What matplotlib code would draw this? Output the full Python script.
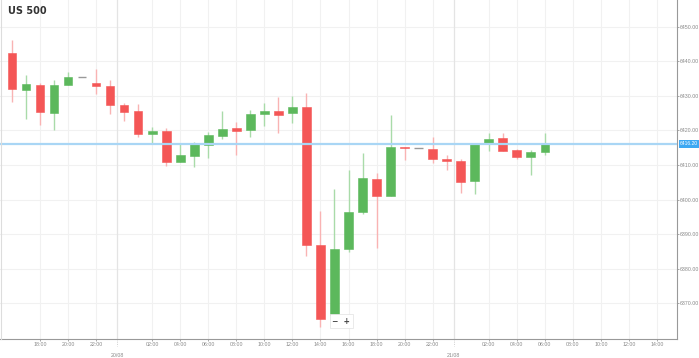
import numpy as np
import matplotlib
matplotlib.use('Agg')
from matplotlib import pyplot as plt

# hourly candles, hours relative to 20/08 00:00
hours = list(range(-8, 31))
opens = [6442.3, 6431.7, 6433.2, 6425.1, 6433.1, 6435.3, 6433.6, 6432.9, 6427.4, 6425.6,
         6418.9, 6419.9, 6410.8, 6412.7, 6415.7, 6418.5, 6420.6, 6420.1, 6424.6, 6425.6,
         6425.0, 6426.7, 6386.8, 6366.6, 6385.7, 6396.4, 6406.0, 6401.0, 6415.2, 6415.0,
         6414.7, 6411.8, 6411.1, 6405.3, 6416.2, 6417.7, 6414.2, 6412.3, 6413.8]
highs = [6446.0, 6436.0, 6433.8, 6434.5, 6436.8, 6435.3, 6437.8, 6434.5, 6428.0, 6427.7,
         6421.1, 6420.6, 6416.1, 6416.6, 6419.4, 6425.7, 6422.4, 6425.9, 6428.0, 6429.6,
         6430.0, 6430.9, 6396.7, 6403.0, 6408.7, 6413.6, 6407.6, 6424.5, 6415.3, 6415.0,
         6418.0, 6412.9, 6411.7, 6416.5, 6419.2, 6419.2, 6414.7, 6414.2, 6419.2]
lows = [6428.3, 6423.2, 6421.5, 6420.1, 6433.0, 6435.3, 6430.6, 6424.8, 6422.8, 6418.0,
        6416.1, 6409.8, 6410.8, 6409.5, 6411.9, 6417.6, 6412.9, 6418.0, 6421.3, 6419.2,
        6422.1, 6383.7, 6363.1, 6366.6, 6384.9, 6395.7, 6386.0, 6401.0, 6411.5, 6415.0,
        6410.7, 6408.6, 6401.9, 6401.6, 6414.1, 6414.1, 6411.8, 6407.1, 6412.9]
closes = [6431.9, 6433.4, 6425.3, 6433.0, 6435.3, 6435.3, 6432.7, 6427.3, 6425.4, 6419.0,
          6419.7, 6410.8, 6412.9, 6416.0, 6418.8, 6420.5, 6419.9, 6424.8, 6425.7, 6424.4,
          6426.9, 6387.0, 6365.6, 6385.8, 6396.4, 6406.1, 6400.9, 6415.1, 6415.0, 6415.0,
          6411.7, 6411.2, 6405.2, 6416.1, 6417.6, 6414.1, 6412.4, 6413.7, 6416.1]
last_price = 6416.2

xtick_hours = [-6, -4, -2, 2, 4, 6, 8, 10, 12, 14, 16, 18, 20, 22,
               26, 28, 30, 32, 34, 36, 38]
xtick_labels = ['18:00', '20:00', '22:00', '02:00', '04:00', '06:00', '08:00', '10:00',
                '12:00', '14:00', '16:00', '18:00', '20:00', '22:00',
                '02:00', '04:00', '06:00', '08:00', '10:00', '12:00', '14:00']
day_hours = [-0.5, 23.5]
day_labels = ['20/08', '21/08']
ytick_values = [6370, 6380, 6390, 6400, 6410, 6420, 6430, 6440, 6450]

RED = '#f45656'
GREEN = '#5cb85c'
RED_WICK = '#f9b3b3'
GREEN_WICK = '#a9dba9'
GREY = '#999999'
TICKFONT = 'Liberation Sans'

fig = plt.figure(figsize=(6.99, 3.58), dpi=100)
ax = fig.add_axes([0, 19 / 358, 676.7 / 699, 339 / 358])

ax.set_xlim(-8.85, 39.4)
ax.set_ylim(6359.7, 6457.7)

# grid
for v in ytick_values:
    ax.axhline(v, color='#f1f1f1', lw=0.8, zorder=0)
for h in xtick_hours:
    ax.axvline(h, color='#f1f1f1', lw=0.8, zorder=0)
for h in day_hours:
    ax.axvline(h, color='#e4e4e4', lw=0.9, zorder=0)

# candles
for h, o, hi, lo, c in zip(hours, opens, highs, lows, closes):
    if c > o:
        col, wcol = GREEN, GREEN_WICK
    elif c < o:
        col, wcol = RED, RED_WICK
    else:
        col, wcol = GREY, GREY
    ax.vlines(h, lo, hi, color=wcol, lw=1.0, zorder=2)
    if c == o:
        ax.hlines(o, h - 0.31, h + 0.31, color=col, lw=1.0, zorder=3)
    else:
        ax.bar(h, abs(c - o), bottom=min(o, c), width=0.62, color=col,
               edgecolor=col, linewidth=0.4, zorder=3)

# last price line
ax.axhline(last_price, color='#a9d6f5', lw=1.6, zorder=4)

# axes styling
for s in ['top', 'left']:
    ax.spines[s].set_visible(False)
ax.spines['right'].set_color('#999999')
ax.spines['bottom'].set_color('#999999')
ax.spines['right'].set_linewidth(0.8)
ax.spines['bottom'].set_linewidth(0.8)
ax.yaxis.tick_right()
ax.set_yticks(ytick_values)
ax.set_yticklabels(['%.2f' % v for v in ytick_values], fontfamily=TICKFONT)
ax.set_xticks(xtick_hours)
ax.set_xticklabels(xtick_labels, fontfamily=TICKFONT)
ax.tick_params(axis='both', labelsize=3.8, colors='#999999', labelcolor='#888888',
               length=1.5, width=0.6, pad=1)
fig.add_artist(plt.Line2D([0.5 / 699, 0.5 / 699], [19 / 358, 1], color='#dddddd', lw=0.8))

for h, lab in zip(day_hours, day_labels):
    ax.text(h, -0.04, lab, transform=ax.get_xaxis_transform(), ha='center', va='top',
            fontsize=3.8, color='#888888', fontfamily=TICKFONT)
    ax.plot([h, h], [0, -0.02], transform=ax.get_xaxis_transform(), color='#bbbbbb',
            lw=0.6, ls=':', clip_on=False)

# price tag
ax.text(1.005, last_price, '%.2f' % last_price, transform=ax.get_yaxis_transform(),
        ha='left', va='center', fontsize=3.6, color='white', fontfamily=TICKFONT,
        bbox=dict(boxstyle='square,pad=0.3', fc='#3ea8f2', ec='none'))

# title
ax.text(8 / 676.7, 1 - 11 / 339, 'US 500', transform=ax.transAxes, ha='left', va='center',
        fontsize=7, fontweight='bold', color='#333333')

# zoom buttons
ax.text(14.85, 6366.6 - 1.7, '\u2212  +', ha='left', va='center', fontsize=5.5,
        color='#444444', fontweight='bold',
        bbox=dict(boxstyle='square,pad=0.3', fc='white', ec='#e6e6e6', lw=0.6), zorder=6)

fig.savefig('out.png', dpi=100)
